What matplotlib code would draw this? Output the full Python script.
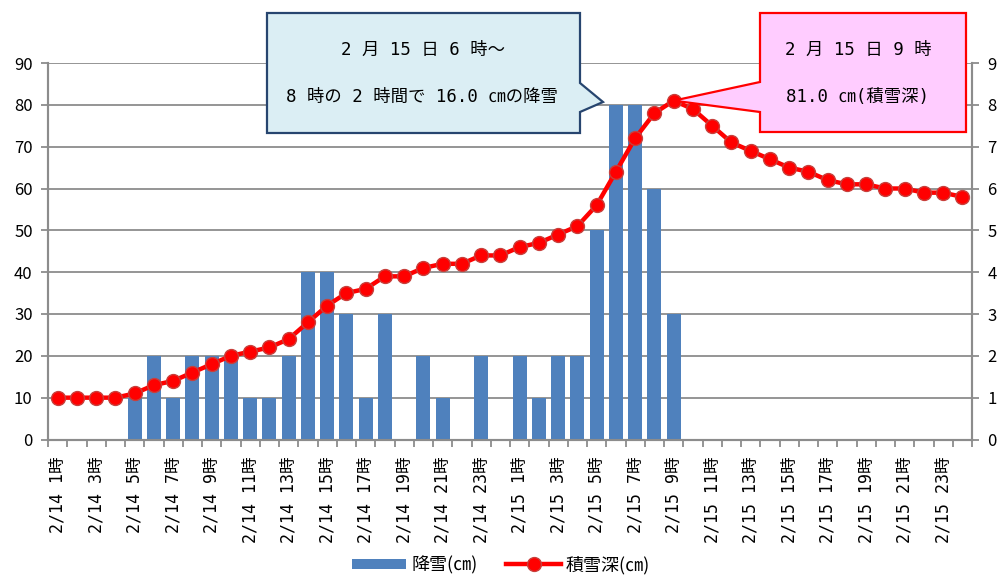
import numpy as np
import matplotlib
matplotlib.use('Agg')
import matplotlib.pyplot as plt
from matplotlib.patches import Polygon, Patch
from matplotlib.lines import Line2D

plt.rcParams['font.family'] = ['Noto Sans CJK JP', 'DejaVu Sans']
mono = ['DejaVu Sans Mono', 'Noto Sans CJK JP']   # closer to the half-width gothic look

# hourly categories, 2/14 1時 .. 2/16 0時
hours = list(range(1, 49))
cat_labels = ['2/%d %d時' % (14 + h // 24, h % 24) for h in hours]

# snowfall per hour (cm) - right axis
snowfall = [0, 0, 0, 0, 1, 2, 1, 2, 2, 2, 1, 1, 2, 4, 4, 3, 1, 3, 0, 2, 1, 0, 2, 0,
            2, 1, 2, 2, 5, 8, 8, 6, 3, 0, 0, 0, 0, 0, 0, 0, 0, 0, 0, 0, 0, 0, 0, 0]
# snow depth (cm) - left axis
depth = [10, 10, 10, 10, 11, 13, 14, 16, 18, 20, 21, 22, 24, 28, 32, 35, 36, 39, 39, 41, 42, 42, 44, 44,
         46, 47, 49, 51, 56, 64, 72, 78, 81, 79, 75, 71, 69, 67, 65, 64, 62, 61, 61, 60, 60, 59, 59, 58]

peak_idx = int(np.argmax(depth))

W, H = 1002, 579
fig = plt.figure(figsize=(W / 100, H / 100), dpi=100)
rect = [48 / W, 1 - 439.5 / H, (972 - 48) / W, (439.5 - 63) / H]

grey = '#8c8c8c'
x = np.arange(len(hours))

# bars (right axis) drawn underneath, with the grid
ax2 = fig.add_axes(rect)
ax2.bar(x, snowfall, width=0.74, color='#4f81bd', zorder=3)
ax2.set_ylim(0, 9)
ax2.set_yticks(range(0, 10))
ax2.yaxis.tick_right()
ax2.grid(axis='y', color=grey, linewidth=1.3, zorder=0)
ax2.set_axisbelow(True)

# snow depth line (left axis) on top
ax = fig.add_axes(rect, sharex=ax2)
ax.patch.set_visible(False)
ax.plot(x, depth, color='#ff0000', linewidth=3.2, marker='o', markersize=10,
        markerfacecolor='#ff0000', markeredgecolor='#c8403c', markeredgewidth=1, zorder=5)
ax.set_ylim(0, 90)
ax.set_yticks(range(0, 100, 10))
ax.set_xlim(-0.5, len(hours) - 0.5)

for a in (ax, ax2):
    a.spines['top'].set_visible(False)
    for s in ('left', 'right', 'bottom'):
        a.spines[s].set_color(grey)
        a.spines[s].set_linewidth(1.5)
    a.tick_params(axis='y', length=5, width=1.3, color=grey, labelsize=12, pad=6)

ax2.tick_params(axis='x', which='both', bottom=False, labelbottom=False)
ax.set_xticks(x[::2])
ax.set_xticklabels(cat_labels[::2], rotation=90, fontsize=12, family=mono)
ax.set_xticks(np.arange(-0.5, len(hours), 1), minor=True)
ax.tick_params(axis='x', which='major', length=0, pad=12)
ax.tick_params(axis='x', which='minor', length=5, width=1.3, color=grey)

# legend
handles = [Patch(facecolor='#4f81bd', edgecolor='none'),
           Line2D([], [], color='#ff0000', linewidth=3.2, marker='o', markersize=10,
                  markerfacecolor='#ff0000', markeredgecolor='#c8403c')]
fig.legend(handles, ['降雪(㎝)', '積雪深(㎝)'], loc='lower center', bbox_to_anchor=(0.5, -0.02),
           ncol=2, frameon=False, fontsize=13, handlelength=3.0, handleheight=0.55,
           columnspacing=1.6, handletextpad=0.3)

# callouts, drawn in pixel coordinates on an overlay
ov = fig.add_axes([0, 0, 1, 1], zorder=10)
ov.set_xlim(0, W)
ov.set_ylim(H, 0)
ov.axis('off')
ov.patch.set_visible(False)

box1 = [(267, 13), (580, 13), (580, 83), (603, 102), (580, 112), (580, 133), (267, 133)]
ov.add_patch(Polygon(box1, closed=True, facecolor='#dbeef4', edgecolor='#27456f', linewidth=1.6))
ov.text(423, 50, '2 月 15 日 6 時～', ha='center', va='center', fontsize=12.5, family=mono)
ov.text(422, 97, '8 時の 2 時間で 16.0 ㎝の降雪', ha='center', va='center', fontsize=12.5, family=mono)

tip = ov.transData.inverted().transform(ax.transData.transform((peak_idx, depth[peak_idx])))
box2 = [(760, 13), (966, 13), (966, 132), (760, 132), (760, 112), tuple(tip), (760, 82)]
ov.add_patch(Polygon(box2, closed=True, facecolor='#ffccff', edgecolor='#ff0000', linewidth=1.6))
ov.text(858, 50, '2 月 15 日 9 時', ha='center', va='center', fontsize=12.5, family=mono)
ov.text(858, 97, '%.1f ㎝(積雪深)' % depth[peak_idx], ha='center', va='center', fontsize=12.5, family=mono)

fig.savefig('out.png', dpi=100)
